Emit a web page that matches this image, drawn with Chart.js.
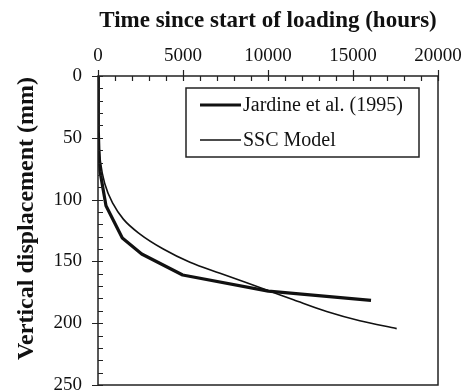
<!DOCTYPE html>
<html>
<head>
<meta charset="utf-8">
<script src="https://cdn.jsdelivr.net/npm/chart.js@4/dist/chart.umd.min.js"></script>
<style>
  html, body { margin: 0; padding: 0; background: #fff; }
  #wrap { width: 467px; height: 392px; }
</style>
</head>
<body>
<div id="wrap"><canvas id="c" width="467" height="392"></canvas></div>
<script>
// Measured settlement (Jardine et al. 1995) and SSC model prediction
const jardineHours = [0, 20, 60, 120, 280, 470, 1430, 2570, 4980, 10020, 16060];
const jardineDisp  = [0, 45, 65, 77, 90, 105, 131, 144, 161, 174, 181.6];

const sscHours = [0, 10, 50, 150, 410, 900, 1490, 2470, 3840, 5410, 7180, 10000, 11500, 13450, 15400, 17570];
const sscDisp  = [0, 38, 55, 70, 87.6, 103.7, 115.8, 127.9, 140, 150.7, 159.6, 173.5, 181, 190.5, 198, 204.4];

const seriesLabels = ['Jardine et al. (1995)', 'SSC Model'];
const xTitle = 'Time since start of loading (hours)';
const yTitle = 'Vertical displacement (mm)';

const xMajorStep = 5000, xMinorStep = 1000, xMax = 20000;
const yMajorStep = 50, yMinorStep = 10, yMax = 250;

const serif = "'Liberation Serif', 'Times New Roman', serif";
const ink = '#111';

function toPoints(xs, ys) {
  return xs.map((x, i) => ({ x: x, y: ys[i] }));
}

// Keep the plot area fixed: no extra room reserved for overhanging end labels
function noOverhang(scale) {
  scale.paddingLeft = 0;
  scale.paddingRight = 0;
  scale.paddingTop = 0;
  scale.paddingBottom = 0;
}

// Frame with inward minor ticks and crossing major ticks
const framePlugin = {
  id: 'frame',
  afterDraw(chart) {
    const ctx = chart.ctx, a = chart.chartArea;
    const sx = chart.scales.x, sy = chart.scales.y;
    ctx.save();
    ctx.strokeStyle = '#222';
    ctx.lineWidth = 1.5;
    ctx.strokeRect(a.left, a.top, a.right - a.left, a.bottom - a.top);
    ctx.lineWidth = 1.2;
    ctx.beginPath();
    sx.ticks.forEach(t => {
      const px = Math.round(sx.getPixelForValue(t.value)) + 0.5;
      const major = t.value % xMajorStep === 0;
      ctx.moveTo(px, a.top - (major ? 6 : 0));
      ctx.lineTo(px, a.top + 5);
    });
    sy.ticks.forEach(t => {
      const py = Math.round(sy.getPixelForValue(t.value)) + 0.5;
      const major = t.value % yMajorStep === 0;
      ctx.moveTo(a.left - (major ? 6 : 0), py);
      ctx.lineTo(a.left + 5, py);
    });
    ctx.stroke();
    ctx.restore();
  }
};

// Rotated y-axis title, centred a little above the middle of the plot
const yTitlePlugin = {
  id: 'yTitle',
  afterDraw(chart) {
    const ctx = chart.ctx, a = chart.chartArea;
    ctx.save();
    ctx.translate(27, (a.top + a.bottom) / 2 - 12);
    ctx.rotate(-Math.PI / 2);
    ctx.font = 'bold 24px ' + serif;
    ctx.fillStyle = ink;
    ctx.textAlign = 'center';
    ctx.textBaseline = 'middle';
    ctx.fillText(yTitle, 0, 0);
    ctx.restore();
  }
};

// Boxed legend inside the plot area
const boxLegendPlugin = {
  id: 'boxLegend',
  afterDraw(chart) {
    const ctx = chart.ctx, a = chart.chartArea;
    const bx = a.left + 88, by = a.top + 12, bw = 233, bh = 69;
    ctx.save();
    ctx.fillStyle = '#fff';
    ctx.fillRect(bx, by, bw, bh);
    ctx.strokeStyle = '#222';
    ctx.lineWidth = 1.5;
    ctx.strokeRect(bx, by, bw, bh);
    ctx.font = '20px ' + serif;
    ctx.textBaseline = 'middle';
    ctx.fillStyle = ink;
    chart.data.datasets.forEach((ds, i) => {
      const y = by + 17 + i * 35;
      ctx.strokeStyle = ds.borderColor;
      ctx.lineWidth = ds.borderWidth;
      ctx.beginPath();
      ctx.moveTo(bx + 14, y);
      ctx.lineTo(bx + 55, y);
      ctx.stroke();
      ctx.fillText(ds.label, bx + 57, y + 1);
    });
    ctx.restore();
  }
};

new Chart(document.getElementById('c'), {
  type: 'line',
  data: {
    datasets: [
      {
        label: seriesLabels[0],
        data: toPoints(jardineHours, jardineDisp),
        borderColor: ink,
        borderWidth: 3.2,
        pointRadius: 0,
        tension: 0,
        borderJoinStyle: 'round',
        borderCapStyle: 'butt'
      },
      {
        label: seriesLabels[1],
        data: toPoints(sscHours, sscDisp),
        borderColor: ink,
        borderWidth: 1.6,
        pointRadius: 0,
        cubicInterpolationMode: 'monotone'
      }
    ]
  },
  options: {
    responsive: false,
    animation: false,
    events: [],
    layout: { padding: { top: 0, left: 0, right: 29, bottom: 7 } },
    plugins: {
      legend: { display: false },
      tooltip: { enabled: false }
    },
    scales: {
      x: {
        type: 'linear',
        position: 'top',
        min: 0,
        max: xMax,
        afterFit(scale) { scale.height = 76; noOverhang(scale); },
        grid: { display: false, drawTicks: false },
        border: { display: false },
        ticks: {
          stepSize: xMinorStep,
          autoSkip: false,
          maxRotation: 0,
          padding: 9,
          color: ink,
          font: { family: serif, size: 19 },
          callback: v => (v % xMajorStep === 0 ? String(v) : '')
        },
        title: {
          display: true,
          text: xTitle,
          color: ink,
          font: { family: serif, size: 23, weight: 'bold' },
          padding: { top: 7, bottom: 0 }
        }
      },
      y: {
        type: 'linear',
        reverse: true,
        min: 0,
        max: yMax,
        afterFit(scale) { scale.width = 98; noOverhang(scale); },
        grid: { display: false, drawTicks: false },
        border: { display: false },
        ticks: {
          stepSize: yMinorStep,
          autoSkip: false,
          padding: 16,
          color: ink,
          font: { family: serif, size: 19 },
          callback: v => (v % yMajorStep === 0 ? String(v) : '')
        },
        title: { display: false }
      }
    }
  },
  plugins: [framePlugin, yTitlePlugin, boxLegendPlugin]
});
</script>
</body>
</html>
